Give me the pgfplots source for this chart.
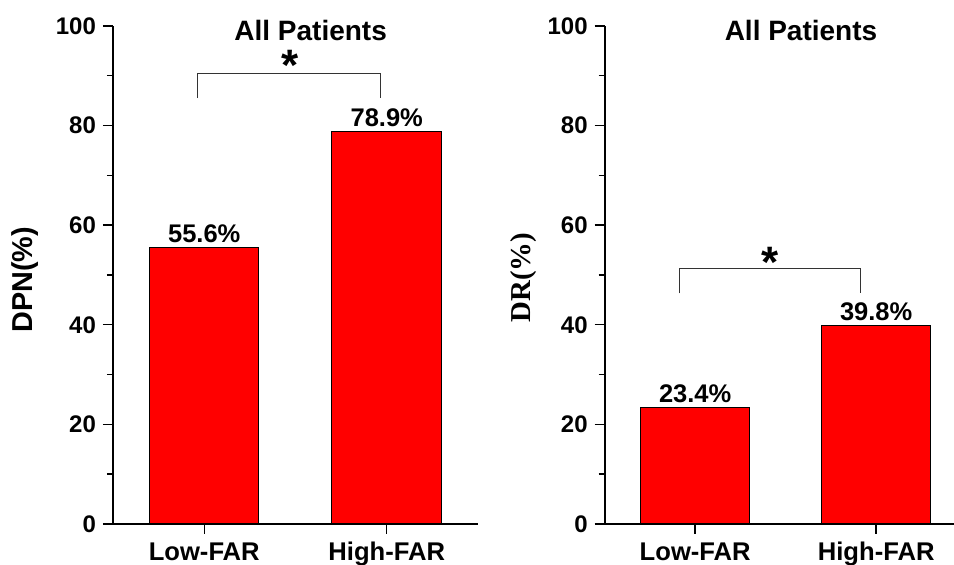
\documentclass[border=0pt]{standalone}
\usepackage{fontspec}
\setmainfont{Liberation Sans}
\newfontfamily\timesfont{Liberation Serif}
\usepackage{pgfplots}
\pgfplotsset{compat=1.18}
\begin{document}
\begin{tikzpicture}
\useasboundingbox (-56.5pt,-20.5pt) rectangle (420.5pt,262pt);
\pgfplotsset{
  every axis title shift=0pt,
  every axis/.append style={
    scale only axis,
    height=249pt,
    ymin=0, ymax=100,
    xmin=-0.5,
    axis x line=bottom, axis y line=left,
    axis line style={-, line width=0.8pt, black},
    every tick/.style={line width=0.7pt, black},
    tick align=outside,
    major tick length=5pt, minor tick length=3pt,
    ytick={0,20,40,60,80,100},
    minor ytick={10,30,50,70,90},
    xtick={0,1},
    xticklabels={Low-FAR,High-FAR},
    /pgf/number format/assume math mode=true,
    tick label style={font=\bfseries\fontsize{12}{13}\selectfont},
    xticklabel style={font=\bfseries\fontsize{12.8}{13}\selectfont, anchor=north, text height=9.4pt, yshift=-0.5pt},
    ybar, bar width=0.6,
    nodes near coords={\pgfmathprintnumber[fixed,fixed zerofill,precision=1]{\pgfplotspointmeta}\%},
    every node near coord/.append style={anchor=base, yshift=2.5pt, font=\bfseries\fontsize{12.75}{13}\selectfont, text=black},
    clip=false,
  }
}
\begin{axis}[
  width=182.5pt, xmax=1.5,
  title={All Patients},
  title style={at={(axis description cs:0.5415,0.97)}, anchor=base, font=\bfseries\fontsize{14}{15}\selectfont},
  ylabel={DPN(\%)},
  ylabel style={at={([xshift=-40pt]axis description cs:0,0.49)}, rotate=0, anchor=base, font=\bfseries\fontsize{14.4}{15}\selectfont},
]
\addplot[fill={rgb,255:red,255;green,0;blue,0}, draw=black, line width=0.5pt] coordinates {(0,55.6) (1,78.9)};
\draw[line width=0.5pt, black!80] (axis cs:-0.035,85.5) -- (axis cs:-0.035,90.5) -- (axis cs:0.965,90.5) -- (axis cs:0.965,85.5);
\node[anchor=center, font=\bfseries\fontsize{22}{22}\selectfont, yshift=-4pt] at (axis cs:0.472,93.6) {*};
\end{axis}
\begin{axis}[
  at={(245.85pt,0pt)},
  width=174.65pt, xmax=1.43,
  title={All Patients},
  title style={at={(axis description cs:0.562,0.97)}, anchor=base, font=\bfseries\fontsize{14}{15}\selectfont},
  ylabel={\timesfont DR(\%)},
  ylabel style={at={([xshift=-37.35pt]axis description cs:0,0.495)}, rotate=0, anchor=base, font=\bfseries\fontsize{14.4}{15}\selectfont},
]
\addplot[fill={rgb,255:red,255;green,0;blue,0}, draw=black, line width=0.5pt] coordinates {(0,23.4) (1,39.8)};
\draw[line width=0.5pt, black!80] (axis cs:-0.087,46.3) -- (axis cs:-0.087,51.3) -- (axis cs:0.913,51.3) -- (axis cs:0.913,46.3);
\node[anchor=center, font=\bfseries\fontsize{22}{22}\selectfont, yshift=-4pt] at (axis cs:0.414,54.2) {*};
\end{axis}
\end{tikzpicture}
\end{document}
